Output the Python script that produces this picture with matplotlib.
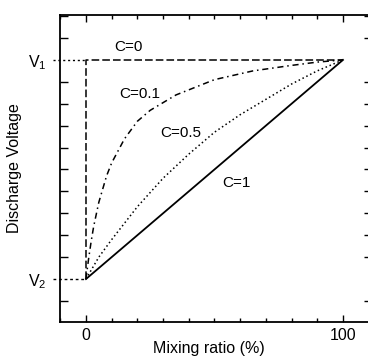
import matplotlib

matplotlib.use("Agg")
import matplotlib.pyplot as plt
from matplotlib.ticker import MultipleLocator

plt.rcParams["font.family"] = ["Liberation Sans", "DejaVu Sans"]
plt.rcParams["mathtext.default"] = "regular"

# curves (y: 0 = V2, 1 = V1)
c0_x = [0, 0, 100]
c0_y = [0, 1, 1]
c01_x = [0, 1, 2, 3, 5, 8, 10, 15, 20, 25, 35, 50, 65, 80, 90, 100]
c01_y = [0, 0.09, 0.17, 0.24, 0.35, 0.47, 0.53, 0.64, 0.72, 0.77, 0.84, 0.91, 0.95, 0.975, 0.99, 1.0]
c05_x = [0, 5, 10, 20, 30, 40, 50, 60, 70, 80, 90, 100]
c05_y = [0, 0.10, 0.18, 0.33, 0.46, 0.57, 0.67, 0.75, 0.82, 0.89, 0.95, 1.0]
c1_x = [0, 100]
c1_y = [0, 1]

labels = ["C=0", "C=0.1", "C=0.5", "C=1"]
label_xy = [(16.7, 1.06), (21, 0.845), (37, 0.667), (58.4, 0.44)]

fig = plt.figure(figsize=(3.68, 3.58), dpi=100)
# right spine sits just past the image edge, only its ticks show
ax = fig.add_axes([60 / 368, 36 / 358, 312 / 368, 307 / 358])
ax.set_xlim(-10.1, 111.3)
ax.set_ylim(-0.196, 1.205)

LW = 1.1
ax.plot(c0_x, c0_y, color="black", lw=LW, linestyle=(0, (5, 2)))
ax.plot(c01_x, c01_y, color="black", lw=LW, linestyle=(0, (4, 2.5, 1, 2.5)))
ax.plot(c05_x, c05_y, color="black", lw=LW, linestyle=(0, (1, 1.8)))
ax.plot(c1_x, c1_y, color="black", lw=LW + 0.2)

# reference lines from the V labels
ax.plot([-13, 0], [1, 1], color="black", lw=1.0, linestyle=(0, (1.5, 2)), clip_on=False)
ax.plot([-13, 0], [0, 0], color="black", lw=1.0, linestyle=(0, (2, 2)), clip_on=False)

for txt, (tx, ty) in zip(labels, label_xy):
    ax.text(tx, ty, txt, ha="center", va="center", fontsize=11)

ax.set_xticks([0, 100])
ax.set_xticklabels(["0", "100"])
ax.xaxis.set_minor_locator(MultipleLocator(10))
ax.set_yticks([0, 1])
ax.set_yticklabels(["V$_2$", "V$_1$"])
ax.yaxis.set_minor_locator(MultipleLocator(0.1))

ax.tick_params(which="both", direction="in", top=True, right=True, width=1.0)
ax.tick_params(axis="x", which="major", length=5, labelsize=11.5, pad=4)
ax.tick_params(axis="x", which="minor", length=3)
ax.tick_params(axis="y", which="major", length=0, labelsize=11.5, pad=10)
ax.tick_params(axis="y", which="minor", length=6)
for s in ax.spines.values():
    s.set_linewidth(1.3)

fig.text(15 / 368, 1 - 168 / 358, "Discharge Voltage", rotation=90, ha="center", va="center", fontsize=11.5)
fig.text(209 / 368, 1 - 349 / 358, "Mixing ratio (%)", ha="center", va="center", fontsize=11.5)

fig.savefig("out.png", dpi=100)
